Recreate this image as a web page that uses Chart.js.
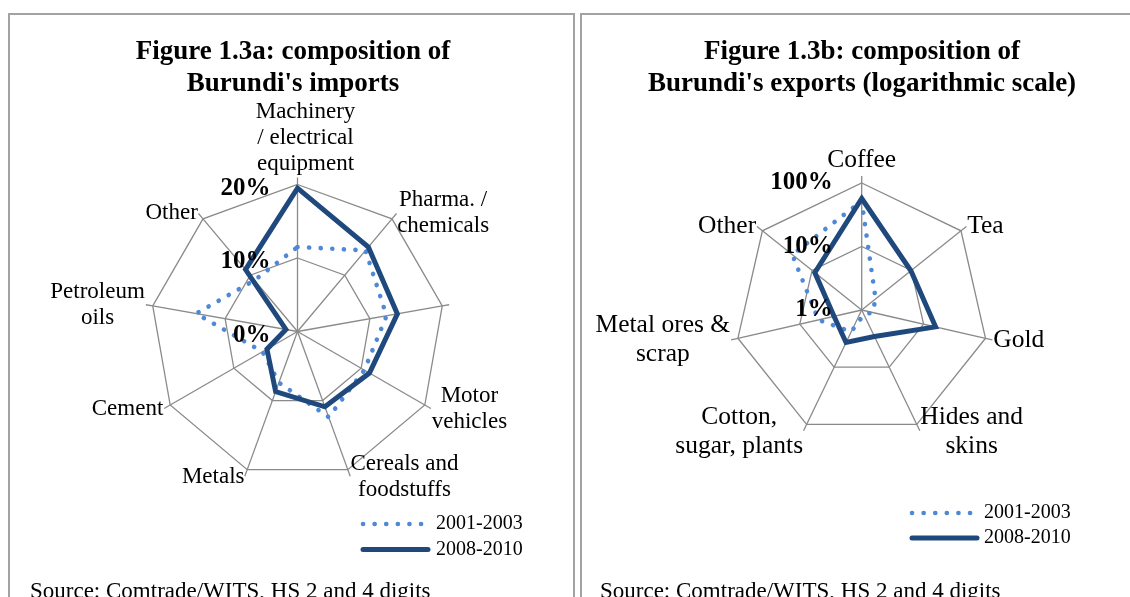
<!DOCTYPE html>
<html>
<head>
<meta charset="utf-8">
<script src="https://cdn.jsdelivr.net/npm/chart.js@4.4.1/dist/chart.umd.min.js"></script>
<style>
  body { margin: 0; width: 1130px; height: 597px; overflow: hidden; position: relative; background: #fff;
         font-family: "Liberation Serif", "Times New Roman", serif; color: #000; }
  .box { position: absolute; top: 13px; height: 700px; border: 2px solid #a3a3a3; box-sizing: border-box; }
  #boxA { left: 8px; width: 567px; }
  #boxB { left: 580px; width: 600px; }
  canvas { position: absolute; top: 0; }
  #importsChart { left: 0; }
  #exportsChart { left: 577px; }
  .title { position: absolute; top: 34px; font-weight: bold; font-size: 27px; line-height: 32px; text-align: center; }
  #titleA { left: 8px; width: 570px; }
  #titleB { left: 581px; width: 562px; }
  .source { position: absolute; top: 579px; font-size: 23px; line-height: 23px; white-space: nowrap; }
</style>
</head>
<body>
<div class="box" id="boxA"></div>
<div class="box" id="boxB"></div>
<canvas id="importsChart" width="577" height="597"></canvas>
<canvas id="exportsChart" width="553" height="597"></canvas>
<div class="title" id="titleA">Figure 1.3a: composition of<br>Burundi's imports</div>
<div class="title" id="titleB">Figure 1.3b: composition of<br>Burundi's exports (logarithmic scale)</div>
<div class="source" style="left:30px">Source: Comtrade/WITS, HS 2 and 4 digits</div>
<div class="source" style="left:600px">Source: Comtrade/WITS, HS 2 and 4 digits</div>
<script>
// series names
var seriesNames = ['2001-2003', '2008-2010'];

// Figure 1.3a - imports, share in %
var importCategories = [['Machinery', '/ electrical', 'equipment'], ['Pharma. /', 'chemicals'], '',
  ['Motor', 'vehicles'], ['Cereals and', 'foodstuffs'], 'Metals', 'Cement', ['Petroleum', 'oils'], 'Other'];
var imports2001 = [11.5, 14.4, 12.3, 10.5, 12.4, 7.4, 5.5, 14.0, 9.1];
var imports2008 = [19.5, 15.0, 13.8, 11.3, 10.9, 8.7, 4.8, 1.6, 11.0];
var importTicks = [0, 10, 20];

// Figure 1.3b - exports, share in % (log scale)
var exportCategories = ['Coffee', 'Tea', 'Gold', ['Hides and', 'skins'], ['Cotton,', 'sugar, plants'],
  ['Metal ores &', 'scrap'], 'Other'];
var exports2001 = [52, 1.9, 1.5, 1.2, 2.4, 5.0, 25];
var exports2008 = [57, 9.8, 15.6, 2.9, 3.7, 2.8, 8.8];
var exportTicks = [1, 10, 100];

var dotBlue = '#4F88D6';
var darkBlue = '#1F497D';
var gridGrey = '#8a8a8a';

// radar centre / radius per canvas, so both panels sit like the Excel originals
var radarGeometry = {
  importsChart: {x: 297.5, y: 331.5, r: 147},
  exportsChart: {x: 284.7, y: 310, r: 127}
};
var baseSetCenter = Chart.RadialLinearScale.prototype.setCenterPoint;
Chart.RadialLinearScale.prototype.setCenterPoint = function(l, r, t, b) {
  var g = radarGeometry[this.chart.canvas.id];
  if (!g) return baseSetCenter.call(this, l, r, t, b);
  this.xCenter = g.x;
  this.yCenter = g.y;
  this.drawingArea = g.r;
};

// excel-like axis labels, tick labels, tick marks and legend
var radarDecor = {
  id: 'radarDecor',
  afterDraw: function(chart, args, opts) {
    var ctx = chart.ctx, scale = chart.scales.r, n = chart.data.labels.length;
    var R = scale.drawingArea, i;
    ctx.save();

    ctx.strokeStyle = gridGrey;
    ctx.lineWidth = 1.3;
    for (i = 0; i < n; i++) {
      var a = scale.getPointPosition(i, R), b = scale.getPointPosition(i, R + 7);
      ctx.beginPath(); ctx.moveTo(a.x, a.y); ctx.lineTo(b.x, b.y); ctx.stroke();
    }

    ctx.font = opts.labelFont;
    ctx.fillStyle = '#000';
    ctx.textBaseline = 'middle';
    ctx.textAlign = 'center';
    for (i = 0; i < n; i++) {
      var lines = [].concat(chart.data.labels[i]);
      var p = scale.getPointPosition(i, R + 8);
      var deg = Math.round(360 * i / n);
      var w = Math.max.apply(null, lines.map(function(t) { return ctx.measureText(t).width; }));
      var h = lines.length * opts.lineHeight;
      var cx, top;
      if (deg === 0) { cx = p.x + opts.topShift; top = p.y - h; }
      else if (deg < 180) { cx = p.x + w / 2; top = p.y - h / 2; }
      else { cx = p.x - w / 2; top = p.y - h / 2; }
      lines.forEach(function(t, k) { ctx.fillText(t, cx, top + opts.lineHeight * (k + 0.5)); });
    }

    ctx.font = 'bold 25px "Liberation Serif"';
    ctx.textAlign = 'right';
    scale.ticks.forEach(function(t) {
      var y = scale.yCenter - scale.getDistanceFromCenterForValue(t.value) + opts.tickDy;
      ctx.fillText(t.label, scale.xCenter - opts.tickDx, y);
    });

    ctx.font = '20px "Liberation Serif"';
    ctx.textAlign = 'left';
    var lg = opts.legend;
    chart.data.datasets.forEach(function(ds, k) {
      var y = lg.y + k * lg.step;
      ctx.save();
      ctx.strokeStyle = ds.borderColor;
      ctx.lineWidth = ds.borderWidth;
      ctx.setLineDash(ds.borderDash || []);
      ctx.lineCap = 'round';
      ctx.beginPath(); ctx.moveTo(lg.x0, y); ctx.lineTo(lg.x1, y); ctx.stroke();
      ctx.restore();
      ctx.fillText(ds.label, lg.x1 + lg.gap, y);
    });
    ctx.restore();
  }
};

function makeDatasets(d2001, d2008) {
  return [
    {label: seriesNames[0], data: d2001, borderColor: dotBlue, borderWidth: 4.6,
     borderDash: [0.1, 11.5], borderCapStyle: 'round', fill: false, pointRadius: 0, order: 2},
    {label: seriesNames[1], data: d2008, borderColor: darkBlue, borderWidth: 5,
     borderJoinStyle: 'miter', fill: false, pointRadius: 0, order: 1}
  ];
}

function radarScale(min, max, tickValues, toValue, toLabel) {
  return {
    min: min, max: max,
    grid: {color: gridGrey, lineWidth: 1.3},
    angleLines: {color: gridGrey, lineWidth: 1.3},
    pointLabels: {display: false},
    afterBuildTicks: function(scale) {
      scale.ticks = tickValues.map(function(v) { return {value: toValue(v)}; });
    },
    ticks: {display: false, callback: toLabel}
  };
}

new Chart(document.getElementById('importsChart'), {
  type: 'radar',
  data: {labels: importCategories, datasets: makeDatasets(imports2001, imports2008)},
  options: {
    responsive: false, animation: false,
    elements: {line: {tension: 0}},
    scales: {r: radarScale(0, 20, importTicks, function(v) { return v; }, function(v) { return v + '%'; })},
    plugins: {
      legend: {display: false}, tooltip: {enabled: false},
      radarDecor: {labelFont: '23px "Liberation Serif"', lineHeight: 26, topShift: 8, tickDx: 27, tickDy: 4,
        legend: {x0: 363, x1: 428, y: 524, step: 25.5, gap: 8}}
    }
  },
  plugins: [radarDecor]
});

new Chart(document.getElementById('exportsChart'), {
  type: 'radar',
  data: {
    labels: exportCategories,
    datasets: makeDatasets(
      exports2001.map(function(v) { return Math.max(0, Math.log10(v)); }),
      exports2008.map(function(v) { return Math.max(0, Math.log10(v)); }))
  },
  options: {
    responsive: false, animation: false,
    elements: {line: {tension: 0}},
    scales: {r: radarScale(0, 2, exportTicks, function(v) { return Math.log10(v); },
      function(v) { return Math.round(Math.pow(10, v)) + '%'; })},
    plugins: {
      legend: {display: false}, tooltip: {enabled: false},
      radarDecor: {labelFont: '25.5px "Liberation Serif"', lineHeight: 29, topShift: 0, tickDx: 29, tickDy: 0,
        legend: {x0: 335, x1: 400, y: 513, step: 25, gap: 7}}
    }
  },
  plugins: [radarDecor]
});
</script>
</body>
</html>
